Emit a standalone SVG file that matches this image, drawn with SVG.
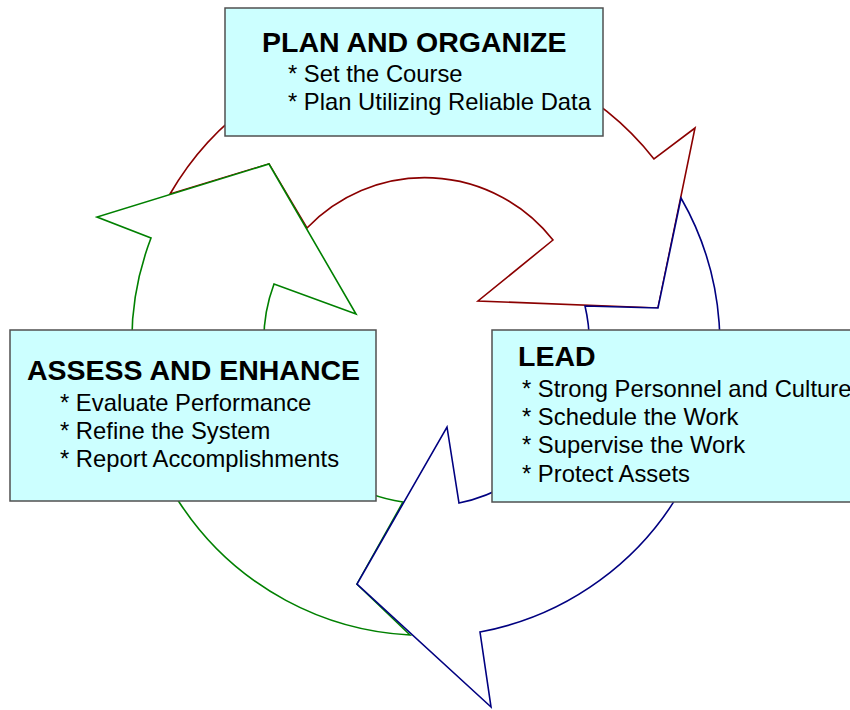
<svg xmlns="http://www.w3.org/2000/svg" width="850" height="710" viewBox="0 0 850 710">
  <style>
    .arrow { fill: #ffffff; stroke-width: 1.6; stroke-linejoin: miter; }
    .box { fill: #ccffff; stroke: #505050; stroke-width: 1.5; }
    .title { font-family: "Liberation Sans", Arial, sans-serif; font-weight: bold; font-size: 28.5px; fill: #000; }
    .item { font-family: "Liberation Sans", Arial, sans-serif; font-size: 23.8px; fill: #000; }
  </style>
  <rect width="850" height="710" fill="#ffffff"/>

  <!-- Three curved arrows of the cycle, centre (427,342), band radii 163..293 -->
  <g id="connectors">
    <!-- Plan -> Lead (dark red) -->
    <path id="arrow-plan-lead" class="arrow" stroke="#8b0000"
          d="M170,194 A293,293 0 0 1 654,159 L695,128 L658,308 L478,301 L553,240 A163,163 0 0 0 307,228 L269,164 Z"/>
    <!-- Assess -> Plan (green) -->
    <path id="arrow-assess-plan" class="arrow" stroke="#008000"
          d="M410,635 A293,293 0 0 1 151,238 L97,217 L269,164 L356,314 L274,284 A163,163 0 0 0 403,502 L357,584 Z"/>
    <!-- Lead -> Assess (navy) -->
    <path id="arrow-lead-assess" class="arrow" stroke="#000080"
          d="M681,198 A293,293 0 0 1 480,632 L491,707 L357,584 L447,427 L459,503 A163,163 0 0 0 585,306 L658,308 Z"/>
  </g>

  <g id="node-plan">
    <rect class="box" x="225" y="8" width="378" height="128"/>
    <text class="title" x="262" y="52">PLAN AND ORGANIZE</text>
    <text class="item" x="288" y="82">* Set the Course</text>
    <text class="item" x="288" y="110">* Plan Utilizing Reliable Data</text>
  </g>

  <g id="node-assess">
    <rect class="box" x="10" y="330" width="366" height="171"/>
    <text class="title" x="27" y="380">ASSESS AND ENHANCE</text>
    <text class="item" x="60" y="411">* Evaluate Performance</text>
    <text class="item" x="60" y="439">* Refine the System</text>
    <text class="item" x="60" y="467">* Report Accomplishments</text>
  </g>

  <g id="node-lead">
    <rect class="box" x="492" y="330" width="370" height="172"/>
    <text class="title" x="518" y="366">LEAD</text>
    <text class="item" x="522" y="397">* Strong Personnel and Culture</text>
    <text class="item" x="522" y="425">* Schedule the Work</text>
    <text class="item" x="522" y="453">* Supervise the Work</text>
    <text class="item" x="522" y="482">* Protect Assets</text>
  </g>
</svg>
